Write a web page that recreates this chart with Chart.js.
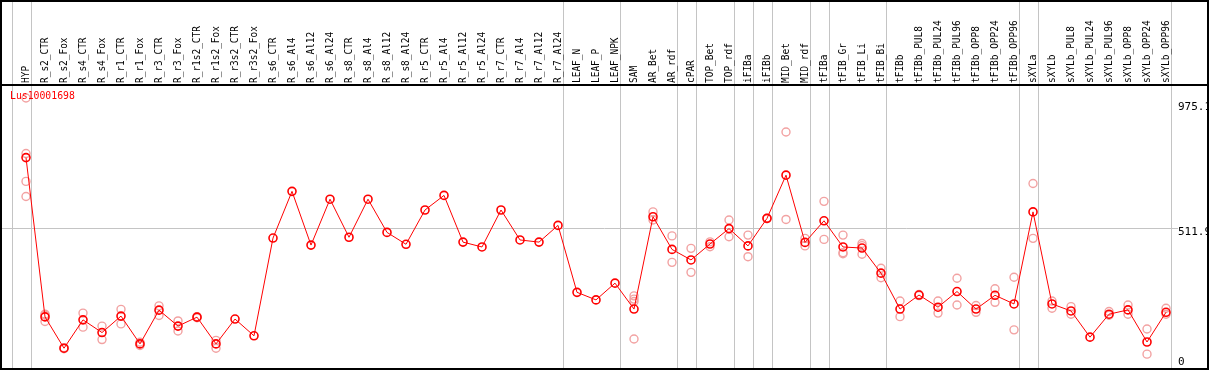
<!DOCTYPE html>
<html>
<head>
<meta charset="utf-8">
<script src="https://cdn.jsdelivr.net/npm/chart.js@4/dist/chart.umd.min.js"></script>
<style>
    body { margin: 0; background: #ffffff; }
    canvas { display: block; }
</style>
</head>
<body>
<canvas id="chart" width="1209" height="370"></canvas>
<script>
// Sample names, one per column
const categories = [
    'HYP', 'R_s2_CTR', 'R_s2_Fox', 'R_s4_CTR', 'R_s4_Fox', 'R_r1_CTR', 'R_r1_Fox',
    'R_r3_CTR', 'R_r3_Fox', 'R_r1s2_CTR', 'R_r1s2_Fox', 'R_r3s2_CTR', 'R_r3s2_Fox',
    'R_s6_CTR', 'R_s6_Al4', 'R_s6_Al12', 'R_s6_Al24', 'R_s8_CTR', 'R_s8_Al4', 'R_s8_Al12',
    'R_s8_Al24', 'R_r5_CTR', 'R_r5_Al4', 'R_r5_Al12', 'R_r5_Al24', 'R_r7_CTR', 'R_r7_Al4',
    'R_r7_Al12', 'R_r7_Al24', 'LEAF_N', 'LEAF_P', 'LEAF_NPK', 'SAM', 'AR_Bet', 'AR_rdf',
    'cPAR', 'TOP_Bet', 'TOP_rdf', 'iFIBa', 'iFIBb', 'MID_Bet', 'MID_rdf', 'tFIBa',
    'tFIB_Gr', 'tFIB_Li', 'tFIB_Bi', 'tFIBb', 'tFIBb_PUL8', 'tFIBb_PUL24', 'tFIBb_PUL96',
    'tFIBb_OPP8', 'tFIBb_OPP24', 'tFIBb_OPP96', 'sXYLa', 'sXYLb', 'sXYLb_PUL8',
    'sXYLb_PUL24', 'sXYLb_PUL96', 'sXYLb_OPP8', 'sXYLb_OPP24', 'sXYLb_OPP96'
];

// Mean expression per sample
const meanValues = [
    774, 184, 68, 173, 126, 187, 84, 209, 150, 183, 84, 176, 114,
    476, 649, 450, 620, 479, 620, 497, 453, 580, 634, 461, 443, 580, 469, 461, 523,
    275, 247, 309, 213, 555, 434, 395, 454, 511, 447, 549, 709, 460, 540,
    443, 439, 346, 213, 265, 220, 278, 213, 264, 232, 573, 232, 206, 109, 194, 210, 91, 201
];

// Individual replicates per sample
const replicateValues = [
    [995, 789, 686, 630], [194, 167, 190], [70, 66], [198, 146], [150, 100], [212, 158],
    [78, 90], [225, 189], [169, 132], [185, 181], [97, 68], [], [],
    [], [], [], [], [], [], [], [], [], [], [], [], [], [], [], [],
    [], [], [], [262, 250, 241, 102], [573, 543], [484, 386], [438, 349], [462, 444],
    [543, 481], [487, 407], [550, 548], [869, 545], [475, 447], [612, 471],
    [487, 422, 418], [456, 416, 448], [364, 329], [243, 185], [267, 263], [243, 198],
    [327, 228], [226, 201], [288, 238], [331, 136], [678, 475], [243, 216], [222, 194],
    [], [204, 190], [228, 194], [139, 46], [216, 194]
];

// Last sample index of each group (separator drawn just after it)
const groupEnds = [-1, 0, 28, 31, 34, 35, 37, 38, 39, 41, 42, 45, 52, 53, 60];

// Y axis tick values
const yTicks = [975.1, 511.9, 0];

const geneName = 'Lus10001698';

const RED = '#ff0000';
const PINK = '#f2a2a2';
const GRID = '#c4c4c4';
const MONO = '"DejaVu Sans Mono", "Liberation Mono", monospace';

const meanPoints = meanValues.map((v, i) => ({ x: i, y: v }));
const repPoints = replicateValues.flatMap((reps, i) => reps.map(v => ({ x: i, y: v })));

// Grid lines behind the data
const gridPlugin = {
    id: 'gridLines',
    beforeDatasetsDraw(chart) {
        const { ctx, chartArea, scales } = chart;
        ctx.save();
        ctx.strokeStyle = GRID;
        ctx.lineWidth = 1;
        ctx.beginPath();
        groupEnds.forEach(g => {
            const x = Math.round(scales.x.getPixelForValue(g + 0.25)) + 0.5;
            ctx.moveTo(x, 0);
            ctx.lineTo(x, chart.height);
        });
        const yMid = Math.round(scales.y.getPixelForValue(yTicks[1])) + 0.5;
        ctx.moveTo(chartArea.left, yMid);
        ctx.lineTo(chartArea.right, yMid);
        ctx.stroke();
        ctx.restore();
    }
};

// Labels, tick values and frame
const labelPlugin = {
    id: 'labels',
    afterDraw(chart) {
        const { ctx, chartArea, scales } = chart;
        ctx.save();

        // rotated sample names
        ctx.fillStyle = '#000000';
        ctx.font = '11px ' + MONO;
        ctx.textAlign = 'left';
        ctx.textBaseline = 'middle';
        categories.forEach((name, i) => {
            const x = scales.x.getPixelForValue(i);
            ctx.save();
            ctx.translate(x, chartArea.top - 2);
            ctx.rotate(-Math.PI / 2);
            ctx.scale(0.86, 1);
            ctx.fillText(name, 0, 0);
            ctx.restore();
        });

        // gene name
        ctx.save();
        ctx.fillStyle = RED;
        ctx.textBaseline = 'top';
        ctx.translate(10, chartArea.top + 6);
        ctx.scale(0.89, 1);
        ctx.fillText(geneName, 0, 0);
        ctx.restore();

        // y tick values on the right
        ctx.font = '11px ' + MONO;
        ctx.textBaseline = 'top';
        yTicks.forEach(t => {
            let y = Math.round(scales.y.getPixelForValue(t));
            y = Math.min(y, chartArea.bottom - 11);
            const w = ctx.measureText(String(t)).width;
            ctx.fillStyle = '#ffffff';
            ctx.fillRect(1178, y, w, 9);
            ctx.fillStyle = '#000000';
            ctx.fillText(String(t), 1178, y - 1);
        });

        // frame
        ctx.strokeStyle = '#000000';
        ctx.lineWidth = 2;
        ctx.beginPath();
        ctx.moveTo(0, chartArea.top);
        ctx.lineTo(chart.width, chartArea.top);
        ctx.stroke();
        ctx.strokeRect(1, 1, chart.width - 2, chart.height - 2);
        ctx.restore();
    }
};

new Chart(document.getElementById('chart').getContext('2d'), {
    type: 'scatter',
    data: {
        datasets: [{
            label: 'mean',
            data: meanPoints,
            showLine: true,
            borderColor: RED,
            borderWidth: 1,
            pointRadius: 4,
            pointBorderWidth: 1.6,
            pointBorderColor: RED,
            pointBackgroundColor: 'rgba(0,0,0,0)'
        }, {
            label: 'replicates',
            data: repPoints,
            showLine: false,
            pointRadius: 4,
            pointBorderWidth: 1.4,
            pointBorderColor: PINK,
            pointBackgroundColor: 'rgba(0,0,0,0)'
        }]
    },
    options: {
        responsive: false,
        animation: false,
        events: [],
        layout: { autoPadding: false, padding: { left: 1, right: 1, top: 85, bottom: 1 } },
        plugins: {
            legend: { display: false },
            tooltip: { enabled: false }
        },
        scales: {
            x: { type: 'linear', display: false, min: -1.316, max: 62.21 },
            y: { display: false, min: -9, max: 1043 }
        }
    },
    plugins: [gridPlugin, labelPlugin]
});
</script>
</body>
</html>
